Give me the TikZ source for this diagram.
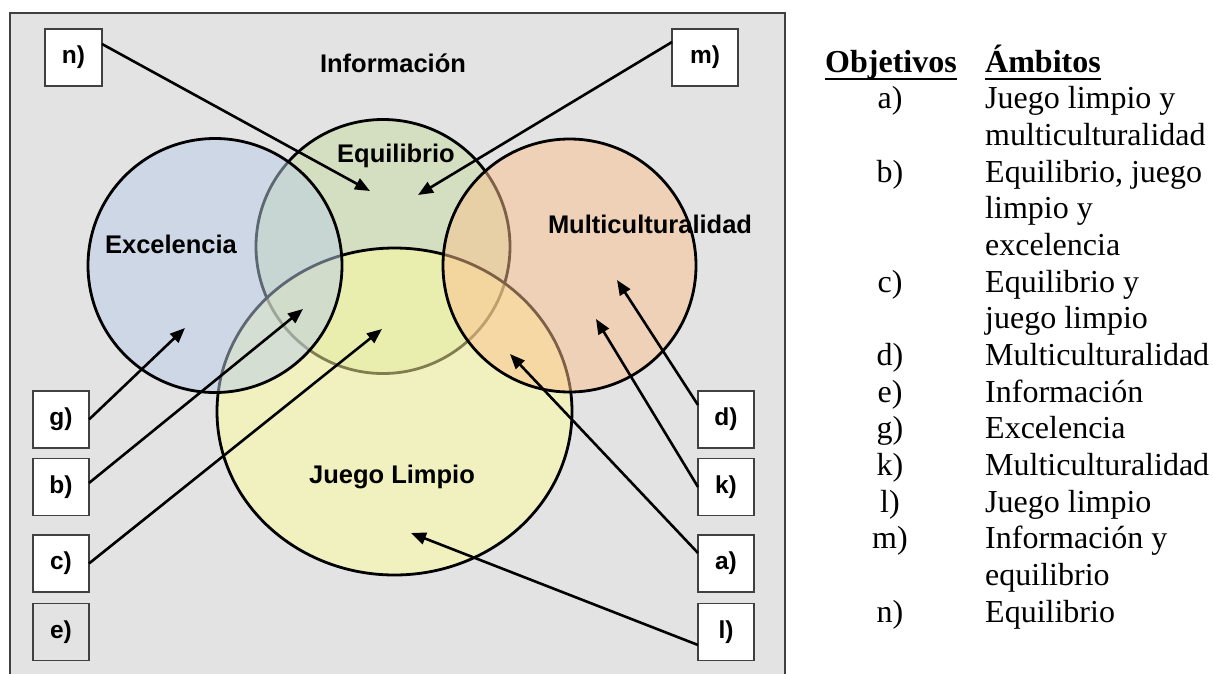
\documentclass[tikz,border=0pt]{standalone}
\usepackage{fontspec}
\setmainfont{Liberation Serif}
\newfontfamily\arialf{Liberation Sans}
\usetikzlibrary{arrows.meta,shapes.geometric}
\definecolor{panelbg}{HTML}{E3E3E3}
\definecolor{panelline}{HTML}{404040}
\definecolor{exc}{RGB}{187,205,231}
\definecolor{equ}{RGB}{199,219,159}
\definecolor{jue}{RGB}{255,253,157}
\definecolor{mul}{RGB}{251,193,141}
\begin{document}
\begin{tikzpicture}[x=1pt,y=-1pt,
 setc/.style={draw=black,line width=2.8pt,fill opacity=0.5,inner sep=0pt,outer sep=0pt},
 lbl/.style={font=\arialf\bfseries\fontsize{25.5}{25.5}\selectfont,inner sep=0pt,anchor=base},
 tag/.style={draw=panelline,line width=1.5pt,fill=white,minimum width=56pt,minimum height=57pt,inner sep=0pt,outer sep=0pt,font=\arialf\bfseries\fontsize{24.5}{24.5}\selectfont},
 conn/.style={line width=2.6pt,-{Triangle[length=15pt,width=12pt]}},
 txt/.style={font=\fontsize{32}{32}\selectfont,inner sep=0pt,anchor=base west},
 ltr/.style={font=\fontsize{32}{32}\selectfont,inner sep=0pt,anchor=base}]
\useasboundingbox (0,0) rectangle (1213,673);
\clip (0,0) rectangle (1213,673);
\fill[white] (0,0) rectangle (1213,673);
% panel
\draw[draw=panelline,line width=1.5pt,fill=panelbg] (10,13) rectangle (785,700);
% sets
\node[setc,circle,fill=equ,minimum size=254pt] (eq) at (383,246.5) {};
\node[setc,ellipse,fill=jue,minimum width=355pt,minimum height=327pt] (jl) at (394.5,411.5) {};
\node[setc,circle,fill=exc,minimum size=254pt] (ex) at (215,265.5) {};
\node[setc,circle,fill=mul,minimum size=253pt] (mu) at (569.5,265.5) {};
% set labels
\node[lbl] (linf) at (393,72) {Información};
\node[lbl] (lequ) at (396,162) {Equilibrio};
\node[lbl] (lexc) at (171,253) {Excelencia};
\node[lbl] (lmul) at (650,233) {Multiculturalidad};
\node[lbl] (ljue) at (392,483) {Juego Limpio};
% tags
\node[tag,minimum width=57pt] (n) at (73.5,57.5) {n)};
\node[tag,minimum width=66pt] (m) at (705,57.5) {m)};
\node[tag] (g) at (61,419.5) {g)};
\node[tag] (b) at (61,487) {b)};
\node[tag] (c) at (61,563.5) {c)};
\node[tag,fill=none] (e) at (61,632) {e)};
\node[tag] (d) at (726,419.5) {d)};
\node[tag] (k) at (726,487) {k)};
\node[tag] (a) at (726,563.5) {a)};
\node[tag] (l) at (726,632) {l)};
% arrow targets
\coordinate (tn) at (370,191);
\coordinate (tm) at (418,195);
\coordinate (tg) at (185,328);
\coordinate (tb) at (303,309);
\coordinate (tc) at (382,329);
\coordinate (td) at (617,280);
\coordinate (tk) at (596,319);
\coordinate (ta) at (510,354);
\coordinate (tl) at (411,533);
\draw[conn] ([yshift=13.5pt]n.east) -- (tn);
\draw[conn] ([yshift=15.5pt]m.west) -- (tm);
\draw[conn] (g.east) -- (tg);
\draw[conn] ([yshift=4pt]b.east) -- (tb);
\draw[conn] (c.east) -- (tc);
\draw[conn] ([yshift=14.5pt]d.west) -- (td);
\draw[conn] (k.west) -- (tk);
\draw[conn] ([yshift=10.5pt]a.west) -- (ta);
\draw[conn] ([yshift=-13pt]l.west) -- (tl);
% legend
\node[txt,font=\bfseries\fontsize{32}{32}\selectfont] (hobj) at (825,72) {Objetivos};
\node[txt,font=\bfseries\fontsize{32}{32}\selectfont] (hamb) at (985,72) {Ámbitos};
\draw[line width=2.5pt] ([yshift=-7pt]hobj.base west) -- ([yshift=-7pt]hobj.base east);
\draw[line width=2.5pt] ([yshift=-7pt]hamb.base west) -- ([yshift=-7pt]hamb.base east);
\node[ltr] (ka) at (890,108.7) {a)};
\node[txt] (va1) at (985,108.7) {Juego limpio y};
\node[txt] (va2) at (985,145.3) {multiculturalidad};
\node[ltr] (kb) at (890,182) {b)};
\node[txt] (vb1) at (985,182) {Equilibrio, juego};
\node[txt] (vb2) at (985,218.7) {limpio y};
\node[txt] (vb3) at (985,255.3) {excelencia};
\node[ltr] (kc) at (890,292) {c)};
\node[txt] (vc1) at (985,292) {Equilibrio y};
\node[txt] (vc2) at (985,328.7) {juego limpio};
\node[ltr] (kd) at (890,365.3) {d)};
\node[txt] (vd) at (985,365.3) {Multiculturalidad};
\node[ltr] (ke) at (890,402) {e)};
\node[txt] (ve) at (985,402) {Información};
\node[ltr] (kg) at (890,438.7) {g)};
\node[txt] (vg) at (985,438.7) {Excelencia};
\node[ltr] (kk) at (890,475.3) {k)};
\node[txt] (vk) at (985,475.3) {Multiculturalidad};
\node[ltr] (kl) at (890,512) {l)};
\node[txt] (vl) at (985,512) {Juego limpio};
\node[ltr] (km) at (890,548.7) {m)};
\node[txt] (vm1) at (985,548.7) {Información y};
\node[txt] (vm2) at (985,585.3) {equilibrio};
\node[ltr] (kn) at (890,622) {n)};
\node[txt] (vn) at (985,622) {Equilibrio};
\end{tikzpicture}
\end{document}
